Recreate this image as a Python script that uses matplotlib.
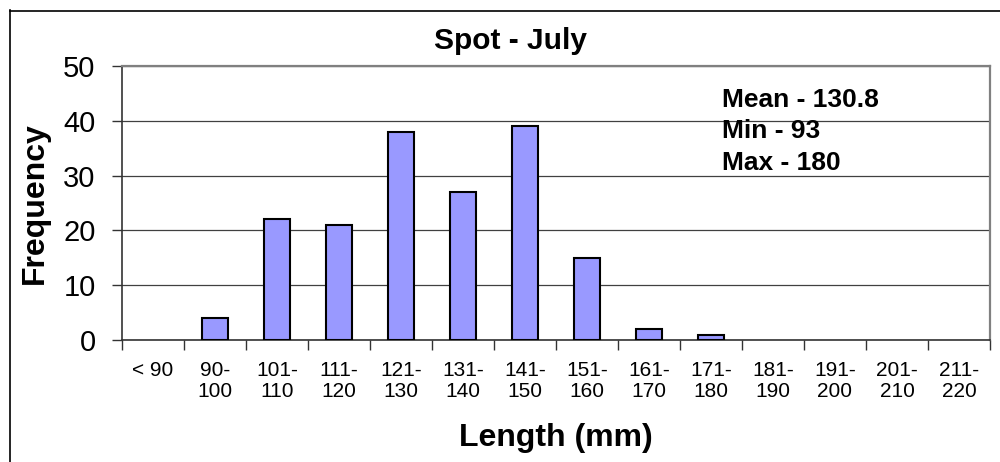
import matplotlib
matplotlib.use("Agg")
import matplotlib.pyplot as plt
from matplotlib.lines import Line2D
import numpy as np

plt.rcParams['font.family'] = ['Liberation Sans', 'DejaVu Sans']

categories = ["< 90", "90-\n100", "101-\n110", "111-\n120", "121-\n130", "131-\n140",
              "141-\n150", "151-\n160", "161-\n170", "171-\n180", "181-\n190",
              "191-\n200", "201-\n210", "211-\n220"]
frequency = [0, 4, 22, 21, 38, 27, 39, 15, 2, 1, 0, 0, 0, 0]
y_ticks = [0, 10, 20, 30, 40, 50]
stats_lines = ["Mean - 130.8", "Min - 93", "Max - 180"]

W, H = 1000, 462
fig = plt.figure(figsize=(W / 100, H / 100), dpi=100)
fig.patch.set_facecolor("white")

def fx(px):
    return px / W

def fy(py):
    return 1 - py / H

ax = fig.add_axes([fx(122), fy(340), fx(990) - fx(122), fy(66) - fy(340)])

x = np.arange(len(categories))
edge_widths = [1.5 if v > 0 else 0 for v in frequency]
ax.bar(x, frequency, width=0.42, color="#9999FF", edgecolor="black",
       linewidth=edge_widths, zorder=3)

ax.set_xlim(-0.5, len(categories) - 0.5)
ax.set_ylim(0, 50)
ax.set_yticks(y_ticks)
ax.set_yticklabels([str(v) for v in y_ticks], fontsize=21)
ax.yaxis.grid(True, color="#404040", linewidth=0.9, zorder=0)
ax.tick_params(axis="y", direction="out", length=7, width=1, pad=12, color="#333333")

# category labels centred, tick marks on the category boundaries
ax.set_xticks(x)
ax.set_xticklabels(categories, fontsize=15, linespacing=1.12)
ax.tick_params(axis="x", which="major", length=0, pad=15)
ax.set_xticks(np.arange(-0.5, len(categories)), minor=True)
ax.tick_params(axis="x", which="minor", direction="out", length=7, width=1, color="#333333")

for side in ("top", "right"):
    ax.spines[side].set_color("#808080")
    ax.spines[side].set_linewidth(1.6)
for side in ("left", "bottom"):
    ax.spines[side].set_color("#333333")
    ax.spines[side].set_linewidth(1.2)

# chart frame
fig.add_artist(Line2D([fx(9.5), fx(9.5)], [fy(10), 0], color="black", linewidth=1.2,
                      transform=fig.transFigure))
fig.add_artist(Line2D([fx(9.5), 1], [fy(10.5), fy(10.5)], color="black", linewidth=1.2,
                      transform=fig.transFigure))

fig.text(fx(510), fy(41), "Spot - July", fontsize=21.5, fontweight="bold",
         ha="center", va="center")
fig.text(fx(35), fy(203), "Frequency", fontsize=23, fontweight="bold",
         ha="center", va="center", rotation=90)
fig.text(fx(556), fy(438), "Length (mm)", fontsize=23, fontweight="bold",
         ha="center", va="center")

for i, line in enumerate(stats_lines):
    fig.text(fx(722), fy(100 + 31.5 * i), line, fontsize=19, fontweight="bold",
             ha="left", va="center")

fig.savefig("out.png", dpi=100, facecolor="white")
